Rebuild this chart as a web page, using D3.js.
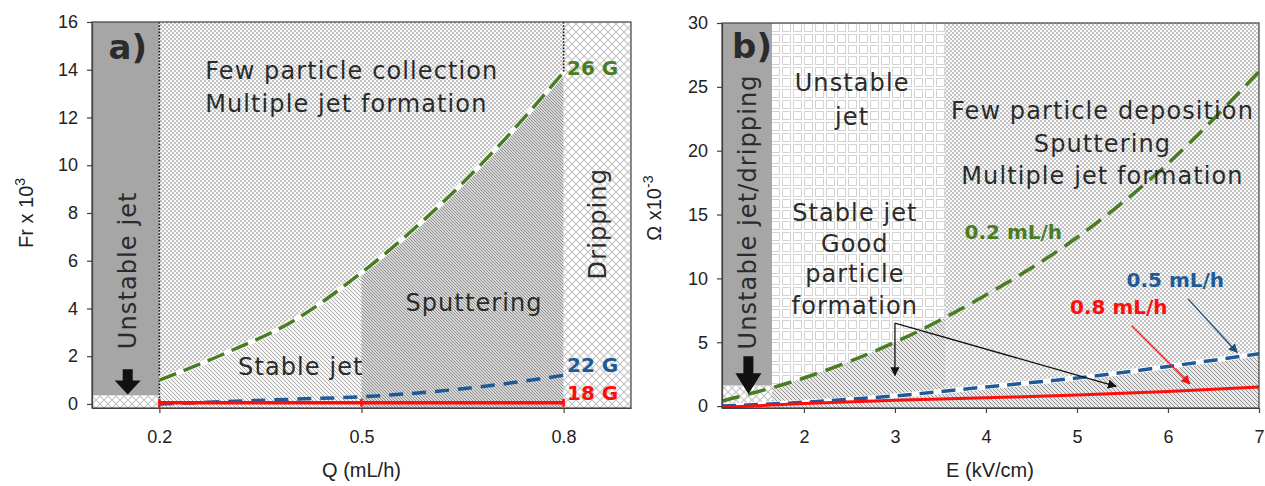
<!DOCTYPE html>
<html><head><meta charset="utf-8">
<script src="https://cdn.jsdelivr.net/npm/d3@7"></script>
<style>
body{margin:0;background:#fff;}
svg{display:block;}
.tick text{font-family:"Liberation Sans",Arial,sans-serif;font-size:18px;fill:#222;}
.axis path,.axis line{stroke:#404040;stroke-width:1.2;}
.zone{font-family:"DejaVu Sans",sans-serif;fill:#2b2b2b;letter-spacing:1.1px;}
.title{font-family:"Liberation Sans",Arial,sans-serif;font-size:20px;fill:#222;}
.tag{font-family:"DejaVu Sans",sans-serif;font-weight:bold;}
</style></head><body>
<svg id="chart" width="1265" height="486"></svg>
<script>
// ---- Panel a: Froude number vs flow rate ----
const qTicks = [0.2, 0.5, 0.8];
const frTicks = [0, 2, 4, 6, 8, 10, 12, 14, 16];
const qValues = [0.2, 0.3, 0.4, 0.5, 0.6, 0.7, 0.8];
const fr26G = [1.0, 2.15, 3.5, 5.5, 7.9, 10.7, 13.9];
const fr22G = [0.0, 0.1, 0.2, 0.3, 0.5, 0.8, 1.2];
const q18G = [0.2, 0.5, 0.8];
const fr18G = [0.05, 0.05, 0.05];
const qZones = [0.1, 0.2, 0.5, 0.8, 0.9];   // unstable | stable | sputtering | dripping
const frUnstableFloor = 0.35;

// ---- Panel b: Omega vs electric field ----
const eTicks = [2, 3, 4, 5, 6, 7];
const omegaTicks = [0, 5, 10, 15, 20, 25, 30];
const eValues = [1.1, 2, 3, 4, 5, 6, 7];
const omega02 = [0.4, 2.2, 5.0, 8.7, 13.2, 19.0, 26.2];
const omega05 = [0.0, 0.3, 0.8, 1.5, 2.2, 3.1, 4.1];
const omega08 = [-0.1, 0.2, 0.45, 0.65, 0.86, 1.15, 1.5];
const eZones = [1.1, 1.65, 3.55, 7];          // dripping | unstable/stable | sputtering
const omegaUnstableFloor = 1.6;

const GREEN = "#4a7d23", BLUE = "#1f5a96", RED = "#ff0d0d", DARK = "#a6a6a6";

const svg = d3.select("#chart");
const defs = svg.append("defs");

// fill textures
function pattern(id, w, h, bg, build) {
  const p = defs.append("pattern").attr("id", id).attr("patternUnits", "userSpaceOnUse")
    .attr("width", w).attr("height", h);
  p.append("rect").attr("width", w).attr("height", h).attr("fill", bg);
  build(p);
}
pattern("dots", 4, 4, "#fafafa", p => {
  p.append("rect").attr("x", 0).attr("y", 0).attr("width", 2).attr("height", 2).attr("fill", "#c4c4c4");
  p.append("rect").attr("x", 2).attr("y", 2).attr("width", 2).attr("height", 2).attr("fill", "#c4c4c4");
});
pattern("grid", 11, 11, "#fff", p => {
  p.append("rect").attr("x", 1.5).attr("y", 1.5).attr("width", 8).attr("height", 8)
    .attr("fill", "none").attr("stroke", "#a8a8a8").attr("stroke-width", 1).attr("stroke-dasharray", "1,1");
});
pattern("hatchLight", 4, 4, "#f6f6f6", p => {
  p.append("path").attr("d", "M-1,-1L5,5M-1,3L1,5M3,-1L5,1").attr("stroke", "#acacac").attr("stroke-width", 1);
});
pattern("hatchMid", 4, 4, "#e8e8e8", p => {
  p.append("path").attr("d", "M-1,-1L5,5M-1,3L1,5M3,-1L5,1").attr("stroke", "#969696").attr("stroke-width", 1);
});
pattern("hatchDark", 3, 3, "#d8d8d8", p => {
  p.append("path").attr("d", "M-1,-1L4,4M-1,2L1,4M2,-1L4,1").attr("stroke", "#8e8e8e").attr("stroke-width", 1);
});
pattern("cross", 8, 8, "#fff", p => {
  p.append("path").attr("d", "M0,0L8,8M8,0L0,8").attr("stroke", "#c4c4c4").attr("stroke-width", 1.2);
});

function marker(id, color) {
  defs.append("marker").attr("id", id).attr("viewBox", "0 0 10 10").attr("refX", 9).attr("refY", 5)
    .attr("markerWidth", 7).attr("markerHeight", 7).attr("orient", "auto")
    .append("path").attr("d", "M0,0L10,5L0,10z").attr("fill", color);
}
marker("arrBlack", "#111"); marker("arrBlue", "#1f4e79"); marker("arrRed", RED);

function blockArrow(g, cx, top, bottom) {
  const h = bottom - top, sh = h * 0.45;
  g.append("path").attr("fill", "#111")
    .attr("d", `M${cx - 5},${top}H${cx + 5}V${top + sh}H${cx + 13}L${cx},${bottom}L${cx - 13},${top + sh}H${cx - 5}Z`);
}

function rotatedText(g, x, y, text, size) {
  g.append("text").attr("class", "zone").attr("transform", `translate(${x},${y}) rotate(-90)`)
    .attr("text-anchor", "middle").attr("dominant-baseline", "central")
    .style("font-size", size + "px").text(text);
}
function zoneText(g, x, y, text, size, anchor) {
  g.append("text").attr("class", "zone").attr("x", x).attr("y", y)
    .attr("text-anchor", anchor || "middle").style("font-size", size + "px").text(text);
}

function clipRect(id, x0, x1, y0, y1) {
  defs.append("clipPath").attr("id", id).append("rect")
    .attr("x", x0).attr("y", y1).attr("width", x1 - x0).attr("height", y0 - y1);
}

function axes(g, x, y, xt, yt, fmtX) {
  const [x0, x1] = x.range(), [y0, y1] = y.range();
  g.append("rect").attr("x", x0).attr("y", y1).attr("width", x1 - x0).attr("height", y0 - y1)
    .attr("fill", "none").attr("stroke", "#404040").attr("stroke-width", 1.2);
  g.append("g").attr("class", "axis").attr("transform", `translate(0,${y0})`)
    .call(d3.axisBottom(x).tickValues(xt).tickSize(5).tickSizeOuter(0).tickPadding(17).tickFormat(fmtX));
  g.append("g").attr("class", "axis").attr("transform", `translate(${x0},0)`)
    .call(d3.axisLeft(y).tickValues(yt).tickSize(5).tickSizeOuter(0).tickPadding(9));
}

const ZS = 24; // region label size

// ================= Panel a =================
const xA = d3.scaleLinear().domain([0.1, 0.9]).range([92, 631]);
const yA = d3.scaleLinear().domain([-0.17, 16]).range([408, 22]);
const gA = svg.append("g");
const [aTop, aBot] = [yA.domain()[1], yA.domain()[0]];

// background zones
gA.append("rect").attr("x", xA(qZones[0])).attr("y", yA(aTop))
  .attr("width", xA(qZones[1]) - xA(qZones[0])).attr("height", yA(frUnstableFloor) - yA(aTop)).attr("fill", DARK);
gA.append("rect").attr("x", xA(qZones[0])).attr("y", yA(frUnstableFloor))
  .attr("width", xA(qZones[1]) - xA(qZones[0])).attr("height", yA(aBot) - yA(frUnstableFloor)).attr("fill", "url(#cross)");
gA.append("rect").attr("x", xA(qZones[1])).attr("y", yA(aTop))
  .attr("width", xA(qZones[3]) - xA(qZones[1])).attr("height", yA(aBot) - yA(aTop)).attr("fill", "url(#dots)");
gA.append("rect").attr("x", xA(qZones[3])).attr("y", yA(aTop))
  .attr("width", xA(qZones[4]) - xA(qZones[3])).attr("height", yA(aBot) - yA(aTop)).attr("fill", "url(#cross)");

const ptsA26 = qValues.map((q, i) => [q, fr26G[i]]);
const areaA = d3.area().x(d => xA(d[0])).y0(yA(aBot)).y1(d => yA(d[1])).curve(d3.curveMonotoneX);
clipRect("clipStable", xA(qZones[1]), xA(qZones[2]), yA(aBot), yA(aTop));
clipRect("clipSputter", xA(qZones[2]), xA(qZones[3]), yA(aBot), yA(aTop));
gA.append("path").datum(ptsA26).attr("d", areaA).attr("fill", "url(#hatchLight)").attr("clip-path", "url(#clipStable)");
gA.append("path").datum(ptsA26).attr("d", areaA).attr("fill", "url(#hatchDark)").attr("clip-path", "url(#clipSputter)");

// dotted boundaries
gA.append("line").attr("x1", xA(qZones[1])).attr("x2", xA(qZones[1])).attr("y1", yA(aTop)).attr("y2", yA(aBot))
  .attr("stroke", "#111").attr("stroke-width", 1.6).attr("stroke-dasharray", "1.6,1.6");
gA.append("line").attr("x1", xA(qZones[3])).attr("x2", xA(qZones[3])).attr("y1", yA(aTop)).attr("y2", yA(fr26G[fr26G.length - 1]))
  .attr("stroke", "#111").attr("stroke-width", 1.6).attr("stroke-dasharray", "1.6,1.6");

const lineA = d3.line().x(d => xA(d[0])).y(d => yA(d[1])).curve(d3.curveMonotoneX);
gA.append("path").datum(ptsA26).attr("d", lineA).attr("fill", "none").attr("stroke", "#fff").attr("stroke-width", 5);
gA.append("path").datum(ptsA26).attr("d", lineA).attr("fill", "none").attr("stroke", GREEN)
  .attr("stroke-width", 3.5).attr("stroke-dasharray", "18,8");
const ptsA22 = qValues.map((q, i) => [q, fr22G[i]]);
gA.append("path").datum(ptsA22).attr("d", lineA).attr("fill", "none").attr("stroke", BLUE)
  .attr("stroke-width", 3.5).attr("stroke-dasharray", "14,9");
const ptsA18 = q18G.map((q, i) => [q, fr18G[i]]);
gA.append("path").datum(ptsA18).attr("d", lineA).attr("fill", "none").attr("stroke", RED).attr("stroke-width", 3.5);
gA.selectAll(".cap18").data(ptsA18).join("line").attr("class", "cap18")
  .attr("x1", d => xA(d[0])).attr("x2", d => xA(d[0])).attr("y1", d => yA(d[1]) - 4).attr("y2", d => yA(d[1]) + 4)
  .attr("stroke", RED).attr("stroke-width", 2.5);

axes(gA, xA, yA, qTicks, frTicks, d3.format(".1f"));

// labels
gA.append("text").attr("class", "zone").attr("x", xA(0.153)).attr("y", yA(14.45)).attr("text-anchor", "middle")
  .style("font-size", "34px").style("font-weight", "bold").style("letter-spacing", "0px").attr("fill", "#111").text("a)");
zoneText(gA, xA(0.268), yA(13.6), "Few particle collection", ZS, "start");
zoneText(gA, xA(0.268), yA(12.25), "Multiple jet formation", ZS, "start");
zoneText(gA, xA(0.41), yA(1.2), "Stable jet", ZS);
zoneText(gA, xA(0.667), yA(3.9), "Sputtering", ZS);
rotatedText(gA, xA(0.153), yA(5.6), "Unstable jet", ZS);
rotatedText(gA, xA(0.851), yA(7.55), "Dripping", ZS);
blockArrow(gA, xA(0.153), yA(1.45), yA(0.4));
const tagA = [["26 G", fr26G[fr26G.length - 1] - 0.1, GREEN], ["22 G", 1.35, BLUE], ["18 G", 0.17, RED]];
gA.selectAll(".tagA").data(tagA).join("text").attr("class", "tag")
  .attr("x", xA(0.805)).attr("y", d => yA(d[1])).attr("fill", d => d[2]).style("font-size", "20px").text(d => d[0]);

gA.append("text").attr("class", "title").attr("x", (xA.range()[0] + xA.range()[1]) / 2 + 0).attr("y", 477)
  .attr("text-anchor", "middle").text("Q (mL/h)");
const frTitle = gA.append("text").attr("class", "title").attr("transform", `translate(33,${yA(8)}) rotate(-90)`)
  .attr("text-anchor", "middle");
frTitle.append("tspan").text("Fr x 10");
frTitle.append("tspan").attr("dy", -8).style("font-size", "14px").text("3");

// ================= Panel b =================
const xB = d3.scaleLinear().domain([1.1, 7]).range([722, 1259]);
const yB = d3.scaleLinear().domain([-0.15, 30]).range([408, 23]);
const gB = svg.append("g");
const [bTop, bBot] = [yB.domain()[1], yB.domain()[0]];

gB.append("rect").attr("x", xB(eZones[0])).attr("y", yB(bTop))
  .attr("width", xB(eZones[1]) - xB(eZones[0])).attr("height", yB(omegaUnstableFloor) - yB(bTop)).attr("fill", DARK);
gB.append("rect").attr("x", xB(eZones[0])).attr("y", yB(omegaUnstableFloor))
  .attr("width", xB(eZones[1]) - xB(eZones[0])).attr("height", yB(bBot) - yB(omegaUnstableFloor)).attr("fill", "url(#cross)");
gB.append("rect").attr("x", xB(eZones[1])).attr("y", yB(bTop))
  .attr("width", xB(eZones[2]) - xB(eZones[1])).attr("height", yB(bBot) - yB(bTop)).attr("fill", "url(#grid)");
gB.append("rect").attr("x", xB(eZones[2])).attr("y", yB(bTop))
  .attr("width", xB(eZones[3]) - xB(eZones[2])).attr("height", yB(bBot) - yB(bTop)).attr("fill", "url(#dots)");

const ptsB02 = eValues.map((e, i) => [e, omega02[i]]);
const ptsB05 = eValues.map((e, i) => [e, omega05[i]]);
const ptsB08 = eValues.map((e, i) => [e, omega08[i]]);
const areaB = d3.area().x(d => xB(d[0])).y0(yB(bBot)).y1(d => yB(d[1])).curve(d3.curveMonotoneX);
clipRect("clipStableB", xB(eZones[1]), xB(eZones[2]), yB(bBot), yB(bTop));
clipRect("clipSputterB", xB(eZones[2]), xB(eZones[3]), yB(bBot), yB(bTop));
gB.append("path").datum(ptsB02).attr("d", areaB).attr("fill", "url(#hatchMid)").attr("clip-path", "url(#clipStableB)");
gB.append("path").datum(ptsB05).attr("d", areaB).attr("fill", "url(#hatchMid)").attr("clip-path", "url(#clipSputterB)");

const lineB = d3.line().x(d => xB(d[0])).y(d => yB(d[1])).curve(d3.curveMonotoneX);
gB.append("path").datum(ptsB02).attr("d", lineB).attr("fill", "none").attr("stroke", GREEN)
  .attr("stroke-width", 3.5).attr("stroke-dasharray", "18,9");
gB.append("path").datum(ptsB05).attr("d", lineB).attr("fill", "none").attr("stroke", "#fff").attr("stroke-width", 5);
gB.append("path").datum(ptsB05).attr("d", lineB).attr("fill", "none").attr("stroke", BLUE)
  .attr("stroke-width", 3.5).attr("stroke-dasharray", "14,8");
gB.append("path").datum(ptsB08).attr("d", lineB).attr("fill", "none").attr("stroke", RED).attr("stroke-width", 3);

axes(gB, xB, yB, eTicks, omegaTicks, d3.format("d"));

// annotation pointers
gB.append("line").attr("x1", xB(3)).attr("x2", xB(3)).attr("y1", yB(6.5)).attr("y2", yB(2.4))
  .attr("stroke", "#111").attr("stroke-width", 1.3).attr("marker-end", "url(#arrBlack)");
gB.append("line").attr("x1", xB(3)).attr("x2", xB(5.43)).attr("y1", yB(6.5)).attr("y2", yB(1.55))
  .attr("stroke", "#111").attr("stroke-width", 1.3).attr("marker-end", "url(#arrBlack)");
gB.append("line").attr("x1", xB(6.22)).attr("x2", xB(6.76)).attr("y1", yB(8.4)).attr("y2", yB(4.2))
  .attr("stroke", "#1f4e79").attr("stroke-width", 1.3).attr("marker-end", "url(#arrBlue)");
gB.append("line").attr("x1", xB(5.6)).attr("x2", xB(6.24)).attr("y1", yB(6.3)).attr("y2", yB(1.75))
  .attr("stroke", RED).attr("stroke-width", 1.3).attr("marker-end", "url(#arrRed)");

gB.append("text").attr("class", "zone").attr("x", xB(1.43)).attr("y", yB(27.25)).attr("text-anchor", "middle")
  .style("font-size", "34px").style("font-weight", "bold").style("letter-spacing", "0px").attr("fill", "#111").text("b)");
rotatedText(gB, xB(1.39), yB(15.2), "Unstable jet/dripping", ZS);
blockArrow(gB, xB(1.39), yB(3.9), yB(0.95));
zoneText(gB, xB(2.53), yB(24.7), "Unstable", ZS);
zoneText(gB, xB(2.53), yB(22.05), "jet", ZS);
zoneText(gB, xB(2.56), yB(14.5), "Stable jet", ZS);
zoneText(gB, xB(2.56), yB(12.07), "Good", ZS);
zoneText(gB, xB(2.56), yB(9.72), "particle", ZS);
zoneText(gB, xB(2.56), yB(7.21), "formation", ZS);
zoneText(gB, xB(5.28), yB(22.5), "Few particle deposition", ZS);
zoneText(gB, xB(5.28), yB(19.92), "Sputtering", ZS);
zoneText(gB, xB(5.28), yB(17.41), "Multiple jet formation", ZS);
const tagB = [["0.2 mL/h", 4.30, 13.08, GREEN], ["0.5 mL/h", 6.08, 9.32, BLUE], ["0.8 mL/h", 5.46, 7.2, RED]];
gB.selectAll(".tagB").data(tagB).join("text").attr("class", "tag").attr("text-anchor", "middle")
  .attr("x", d => xB(d[1])).attr("y", d => yB(d[2])).attr("fill", d => d[3]).style("font-size", "20px").text(d => d[0]);

gB.append("text").attr("class", "title").attr("x", 990).attr("y", 477).attr("text-anchor", "middle").text("E (kV/cm)");
const omTitle = gB.append("text").attr("class", "title").attr("transform", `translate(661,${yB(15.5)}) rotate(-90)`)
  .attr("text-anchor", "middle");
omTitle.append("tspan").text("Ω x10");
omTitle.append("tspan").attr("dy", -8).style("font-size", "14px").text("-3");
</script>
</body></html>
